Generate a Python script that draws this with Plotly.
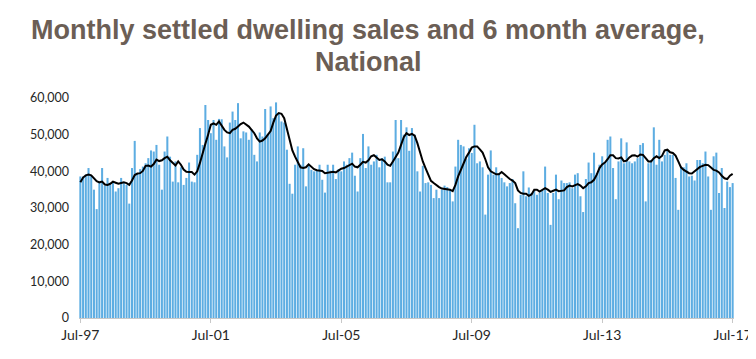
import pandas as pd
import plotly.graph_objects as go

months = [d.strftime("%b-%y") for d in pd.date_range("1997-07-01", "2017-07-01", freq="MS")]
tick_labels = ["Jul-97", "Jul-01", "Jul-05", "Jul-09", "Jul-13", "Jul-17"]
y_ticks = [0, 10000, 20000, 30000, 40000, 50000, 60000]

sales = [
    38600, 38600, 39100, 40900, 38800, 35000, 29700, 36800, 40900, 36100, 38200, 36300,
    36800, 34500, 35400, 38200, 36800, 36300, 31200, 40900, 48300, 39500, 40600, 41300,
    42200, 43600, 45700, 45400, 47200, 41800, 35000, 45400, 49500, 44000, 37200, 42700,
    37000, 41100, 36300, 38200, 42400, 37200, 37000, 44500, 51800, 47200, 58100, 54000,
    50400, 54000, 48600, 54300, 54200, 46800, 43800, 53300, 56300, 54000, 58600, 49000,
    50900, 50600, 48600, 51500, 44500, 42700, 50600, 49500, 57000, 50000, 57700, 54500,
    58800, 55600, 53600, 53300, 45900, 36600, 33900, 41800, 46800, 41800, 46300, 35900,
    41800, 40400, 40000, 40200, 41800, 37700, 34200, 41800, 40200, 41800, 37900, 40600,
    40000, 42700, 41800, 43600, 45100, 38800, 34500, 43600, 50200, 40900, 46800, 41800,
    42700, 44500, 41100, 43600, 44000, 37000, 37000, 45400, 54000, 43600, 54000, 50000,
    52000, 45600, 51800, 50000, 40000, 34500, 41500, 36800, 37000, 36300, 32700, 35000,
    32700, 35000, 36100, 35700, 35000, 31800, 41300, 48600, 47200, 46800, 43300, 46300,
    45000, 52700, 42200, 42700, 41100, 28200, 39100, 45700, 39100, 41100, 39500, 38200,
    37000, 35900, 36800, 37900, 31300, 24500, 33600, 40000, 33200, 35600, 34100, 34800,
    33600, 34200, 34800, 41300, 34100, 25400, 34100, 39100, 32400, 37500, 36800, 36800,
    37000, 35400, 39100, 39500, 33200, 28900, 37900, 42400, 39500, 45100, 39500, 41800,
    44100, 42200, 48600, 49500, 40900, 32400, 42700, 49000, 42200, 47900, 42700, 42200,
    42700, 43600, 47200, 47700, 31800, 42200, 43100, 52000, 41800, 48600, 42700, 44500,
    45900, 44500, 44500, 38200, 29500, 40900, 41100, 42200, 38600, 38800, 37500, 43100,
    43100, 42200, 45400, 38600, 29500, 44100, 45100, 34100, 40900, 30000, 37200, 35700,
    36800,
]

avg6 = [
    37000, 38300, 38900, 39100, 38900, 38000, 37300, 37000, 37200, 36400, 36300, 36600,
    37200, 36900, 36600, 36800, 37000, 36800, 36300, 37500, 39000, 39400, 39500, 40100,
    41500, 41600, 41300, 42000, 43200, 42800, 43000, 43600, 44000, 43000, 42200, 41600,
    42700, 41800, 40500, 39900, 39800, 39800, 39100, 40000, 42300, 44600, 47500, 50000,
    52700, 53100, 52700, 53600, 52500, 51300, 50600, 50400, 51300, 51600, 52200, 52900,
    53300, 52700, 52200, 51300, 50400, 49000, 48100, 48400, 49000, 50000, 51000, 53300,
    55200, 55900, 55700, 54500, 51800, 48600, 45700, 44000, 42700, 41100, 40900, 41100,
    41900, 41100, 40600, 40300, 40200, 40100, 39500, 39700, 39900, 39900, 39700, 40200,
    40700, 40900, 41300, 41800, 42100, 41300, 41100, 41800, 42600, 42400, 43000, 44100,
    44400, 43800, 43100, 43300, 42700, 41800, 41500, 42700, 43800, 45100, 47200, 49300,
    50400, 49900, 50200, 49700, 47700, 44800, 42700, 40900, 39100, 37400, 36800, 36200,
    35700, 35300, 35200, 35200, 35000, 34600, 36300, 38600, 40400, 42200, 43900, 45100,
    46500, 46800, 46800, 46000, 45100, 43300, 41100, 40000, 39500, 39200, 39200, 39800,
    39200, 38400, 37900, 37500, 36800, 34800, 34100, 33900, 33900, 33300, 33700, 35000,
    35000, 34500, 35000, 35400, 35000, 34400, 34700, 35000, 34600, 34600, 34800, 35700,
    36100, 35900, 36300, 36500, 36100, 35400, 35900, 36800, 37000, 37700, 39100, 40900,
    41900, 42400, 43300, 44400, 44400, 43600, 43500, 43800, 42700, 42900, 43800, 44300,
    44400, 44000, 44600, 44500, 43600, 42700, 42700, 43600, 44100, 43600, 44200, 45700,
    45900, 45200, 45000, 44300, 42700, 41100, 40400, 40000, 39500, 39400, 40000, 40700,
    41200, 41500, 41800, 41700, 41100, 40400, 40200, 39700, 38800, 38100, 37900, 38800,
    39300,
]

if not (len(months) == len(sales) == len(avg6)):
    raise SystemExit(f"length mismatch {len(months)} {len(sales)} {len(avg6)}")

fig = go.Figure()
fig.add_trace(go.Bar(x=months, y=sales, marker=dict(color="#5dade2", line=dict(width=0)),
                     name="Monthly settled dwelling sales"))
fig.add_trace(go.Scatter(x=months, y=avg6, mode="lines", line=dict(color="#000000", width=2),
                         name="6 month average"))

title_font = dict(family="Liberation Sans, Arial, sans-serif", size=27, color="#6b5e55")
fig.add_annotation(text="<b>Monthly settled dwelling sales and 6 month average,</b>",
                   xref="paper", yref="paper", x=(366 - 71) / 668, y=1 + (90 - 5) / 220,
                   xanchor="center", yanchor="top", showarrow=False, font=title_font)
fig.add_annotation(text="<b>National</b>",
                   xref="paper", yref="paper", x=(366 - 71) / 668, y=1 + (90 - 37) / 220,
                   xanchor="center", yanchor="top", showarrow=False, font=title_font)

fig.update_layout(
    width=756, height=359,
    margin=dict(l=71, r=17, t=90, b=49),
    paper_bgcolor="white", plot_bgcolor="white",
    showlegend=False, bargap=0.25,
    font=dict(family="Lato, Open Sans, sans-serif", size=14, color="#262626"),
)
fig.update_xaxes(type="category", tickmode="array", tickvals=tick_labels, ticktext=tick_labels,
                 showgrid=False, showline=True, linecolor="#c8c8c8", linewidth=1,
                 ticks="outside", ticklen=4, tickcolor="#c8c8c8", tickangle=0,
                 tickfont=dict(size=14),
                 range=[-0.5, len(months) - 0.5])
fig.update_yaxes(range=[0, 60000], tickvals=y_ticks, tickformat=",", showgrid=False,
                 zeroline=False, showline=False, ticks="", ticklabelstandoff=9,
                 tickfont=dict(size=12.5))

fig.write_html("out.html")
